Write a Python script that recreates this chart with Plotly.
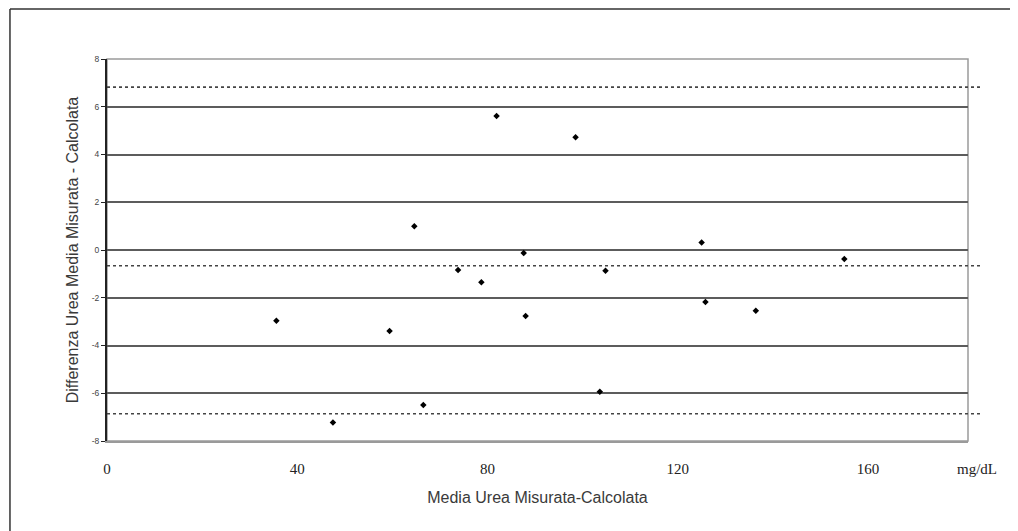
import plotly.graph_objects as go

# Bland-Altman data
media = [35.6, 47.5, 59.4, 64.6, 66.5, 73.8, 78.7, 81.9, 87.6, 88.0,
         98.5, 103.6, 104.8, 125.0, 125.8, 136.4, 155.0]
differenza = [-2.96, -7.23, -3.39, 1.0, -6.49, -0.84, -1.35, 5.61, -0.13, -2.76,
              4.72, -5.94, -0.87, 0.31, -2.18, -2.54, -0.38]

ref_lines = [6.82, -0.66, -6.86]   # mean and limits of agreement

x_ticks = [0, 40, 80, 120, 160]
y_ticks = [-8, -6, -4, -2, 0, 2, 4, 6, 8]

fig = go.Figure()
fig.add_trace(go.Scatter(
    x=media, y=differenza, mode="markers",
    marker=dict(symbol="diamond", size=5, color="black"),
    showlegend=False, hoverinfo="x+y"))

shapes = []
for v in ref_lines:
    shapes.append(dict(type="line", xref="paper", yref="y", x0=0, x1=1.014,
                       y0=v, y1=v, line=dict(color="#444", width=1.6, dash="3px,3px")))
# plot border (top and right, grey)
shapes.append(dict(type="rect", xref="paper", yref="paper", x0=0, x1=1, y0=0, y1=1,
                   line=dict(color="#9a9a9a", width=1.5), layer="below"))
# outer frame (top and left)
shapes.append(dict(type="line", xref="paper", yref="paper",
                   x0=-0.1127, x1=1.1, y0=1.131, y1=1.131,
                   line=dict(color="#333", width=1.5)))
shapes.append(dict(type="line", xref="paper", yref="paper",
                   x0=-0.1127, x1=-0.1127, y0=-0.3, y1=1.131,
                   line=dict(color="#333", width=1.5)))

fig.update_layout(
    width=1010, height=523,
    margin=dict(l=99, r=50, t=51, b=90),
    paper_bgcolor="white", plot_bgcolor="white",
    font=dict(family="Liberation Sans, Arial, sans-serif", color="#333"),
    shapes=shapes,
    annotations=[dict(text="mg/dL", xref="paper", yref="paper", x=1.0105, y=-0.072,
                      xanchor="center", yanchor="middle", showarrow=False,
                      font=dict(family="Liberation Serif, Times New Roman, serif",
                                size=15, color="#222"))],
    xaxis=dict(range=[0, 181], tickvals=x_ticks,
               ticktext=[str(t) for t in x_ticks],
               showgrid=False, zeroline=False,
               showline=True, linecolor="#9a9a9a", linewidth=1.5,
               ticks="", ticklabelstandoff=13,
               tickfont=dict(family="Liberation Serif, Times New Roman, serif",
                             size=15, color="#222"),
               title=dict(text="Media Urea Misurata-Calcolata", standoff=16,
                          font=dict(size=16, color="#3a3a3a"))),
    yaxis=dict(range=[-8, 8], tickvals=y_ticks,
               ticktext=[str(t) for t in y_ticks],
               showgrid=True, gridcolor="#5c5c5c", gridwidth=2,
               zeroline=True, zerolinecolor="#5c5c5c", zerolinewidth=2,
               showline=True, linecolor="#222", linewidth=2,
               ticks="outside", ticklen=4, tickcolor="#222", tickwidth=1,
               tickfont=dict(size=8.5, color="#444"),
               title=dict(text="Differenza Urea Media Misurata - Calcolata", standoff=9,
                          font=dict(size=16, color="#3a3a3a"))),
)

fig.write_html("out.html")
